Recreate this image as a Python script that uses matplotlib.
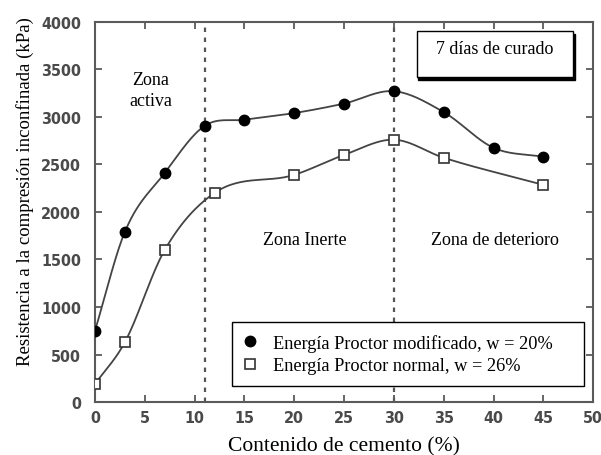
import numpy as np
import matplotlib
matplotlib.use("Agg")
from matplotlib import pyplot as plt
from matplotlib.patches import Rectangle

# cement content (%) and unconfined compressive strength (kPa), 7 days curing
x_mod = [0, 3, 7, 11, 15, 20, 25, 30, 35, 40, 45]
q_mod = [750, 1790, 2410, 2905, 2970, 3040, 3140, 3270, 3050, 2675, 2580]
x_norm = [0, 3, 7, 12, 20, 25, 30, 35, 45]
q_norm = [190, 630, 1600, 2200, 2390, 2600, 2760, 2570, 2285]
zone_limits = [11, 30]
x_ticks = [0, 5, 10, 15, 20, 25, 30, 35, 40, 45, 50]
y_ticks = [0, 500, 1000, 1500, 2000, 2500, 3000, 3500, 4000]


def smooth(xs, ys, n=30):
    # cubic Hermite through the points, tangents from neighbouring slopes
    xs = np.asarray(xs, float)
    ys = np.asarray(ys, float)
    d = np.diff(ys) / np.diff(xs)
    m = np.empty_like(ys)
    m[0], m[-1] = d[0], d[-1]
    m[1:-1] = (d[:-1] + d[1:]) / 2
    px, py = [], []
    for i in range(len(xs) - 1):
        h = xs[i + 1] - xs[i]
        t = np.linspace(0, 1, n, endpoint=False)
        h00 = 2 * t**3 - 3 * t**2 + 1
        h10 = t**3 - 2 * t**2 + t
        h01 = -2 * t**3 + 3 * t**2
        h11 = t**3 - t**2
        px.extend(xs[i] + t * h)
        py.extend(h00 * ys[i] + h10 * h * m[i] + h01 * ys[i + 1] + h11 * h * m[i + 1])
    px.append(xs[-1])
    py.append(ys[-1])
    return px, py


serif = "Liberation Serif"
line_col = "#444444"
frame_col = "#5a5a5a"

fig = plt.figure(figsize=(6.01, 4.56), dpi=100)
ax = fig.add_axes([0.158, 0.116, 0.829, 0.834])

for xv in zone_limits:
    ax.plot([xv, xv], [0, 4000], color="#555555", lw=1.6, ls=(0, (2, 2.5)), zorder=1)

sx, sy = smooth(x_mod, q_mod)
ax.plot(sx, sy, color=line_col, lw=1.3, zorder=2)
sx, sy = smooth(x_norm, q_norm)
ax.plot(sx, sy, color=line_col, lw=1.3, zorder=2)

h1, = ax.plot(x_mod, q_mod, ls="none", marker="o", ms=7.5, color="black", zorder=3)
h2, = ax.plot(x_norm, q_norm, ls="none", marker="s", ms=7.5, mfc="white",
              mec="#333333", mew=1.2, zorder=3)

ax.set_xlim(0, 50)
ax.set_ylim(0, 4000)
ax.set_xticks(x_ticks)
ax.set_yticks(y_ticks)
ax.tick_params(direction="in", top=True, right=True, length=5, width=1.3,
               color=frame_col, labelsize=11.5, labelcolor="#4a4a4a")
ax.tick_params(axis="y", pad=10)
ax.tick_params(axis="x", pad=6)
for lab in ax.get_xticklabels() + ax.get_yticklabels():
    lab.set_fontweight("bold")
    lab.set_fontstretch("condensed")
for sp in ax.spines.values():
    sp.set_color(frame_col)
    sp.set_linewidth(1.5)

ax.set_xlabel("Contenido de cemento (%)", fontsize=15.5, family=serif, labelpad=8)
ax.set_ylabel("Resistencia a la compresión inconfinada (kPa)", fontsize=13.5,
              family=serif)
ax.yaxis.set_label_coords(-0.123, 0.555)

ax.text(5.6, 3280, "Zona\nactiva", ha="center", va="center", fontsize=13,
        family=serif, linespacing=1.3)
ax.text(21.1, 1710, "Zona Inerte", ha="center", va="center", fontsize=13, family=serif)
ax.text(40.1, 1710, "Zona de deterioro", ha="center", va="center", fontsize=13,
        family=serif)

# caption box with a drop shadow
ax.add_patch(Rectangle((32.45, 3390), 15.7, 480, fc="black", ec="black", lw=1.0, zorder=4))
ax.add_patch(Rectangle((32.3, 3420), 15.7, 480, fc="white", ec="black", lw=1.0, zorder=4))
ax.text(40.15, 3715, "7 días de curado", ha="center", va="center", fontsize=13,
        family=serif, zorder=5)

leg = ax.legend([h1, h2], ["Energía Proctor modificado, w = 20%",
                           "Energía Proctor normal, w = 26%"],
                loc="lower left", bbox_to_anchor=(0.276, 0.042, 0.706, 0.178),
                mode="expand", prop={"family": serif, "size": 13.2}, frameon=True,
                fancybox=False, edgecolor="black", framealpha=1, handlelength=0.6,
                handletextpad=0.95, borderpad=0.65, borderaxespad=0, labelspacing=0.3)
leg.get_frame().set_linewidth(1.0)

fig.savefig("out.png", dpi=100)
